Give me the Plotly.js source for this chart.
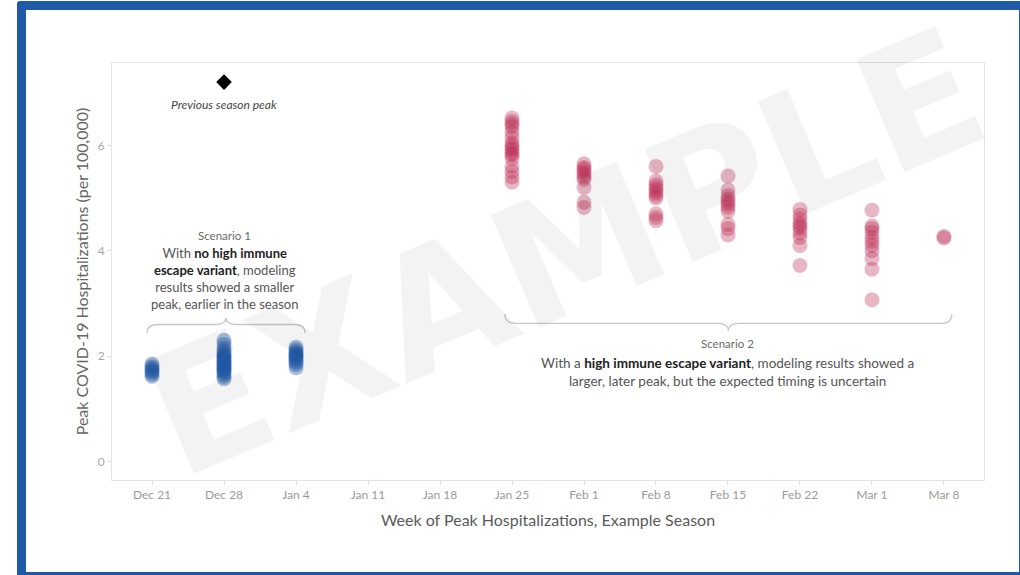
<!DOCTYPE html>
<html>
<head>
<meta charset="utf-8">
<script src="https://cdn.plot.ly/plotly-3.0.1.min.js"></script>
<style>
  html, body { margin: 0; padding: 0; background: #ffffff; overflow: hidden; width: 1020px; height: 575px; }
  #frame { position: absolute; left: 17px; top: 1px; width: 1011px; height: 580px; box-sizing: border-box;
           border: 9px solid #1f5aa6; border-radius: 3px; }
  #chart { position: absolute; left: 0; top: 0; width: 1020px; height: 575px; }
</style>
</head>
<body>
<div id="frame"></div>
<div id="chart"></div>
<script>
// ---- data ----
const weekLabels = ["Dec 21","Dec 28","Jan 4","Jan 11","Jan 18","Jan 25","Feb 1","Feb 8","Feb 15","Feb 22","Mar 1","Mar 8"];

// Scenario 1 (no high immune escape variant)
const s1Dec21 = [1.85, 1.8, 1.77, 1.73, 1.7, 1.66, 1.62];
const s1Dec28 = [2.3, 2.22, 2.15, 2.1, 2.05, 2.02, 2.0, 1.97, 1.95, 1.92, 1.9, 1.87, 1.85, 1.82, 1.8, 1.77, 1.75, 1.72, 1.7, 1.66, 1.62, 1.57];
const s1Jan4  = [2.17, 2.12, 2.08, 2.05, 2.02, 2.0, 1.98, 1.95, 1.92, 1.88, 1.84, 1.78];

// Scenario 2 (high immune escape variant)
const s2Jan25 = [6.52, 6.45, 6.4, 6.35, 6.25, 6.15, 6.05, 6.0, 5.95, 5.9, 5.85, 5.82, 5.75, 5.6, 5.5, 5.4, 5.3];
const s2Feb1  = [5.65, 5.58, 5.55, 5.5, 5.45, 5.4, 5.35, 5.2, 4.92, 4.82];
const s2Feb8  = [5.6, 5.32, 5.25, 5.2, 5.15, 5.1, 5.05, 5.0, 4.7, 4.63, 4.57];
const s2Feb15 = [5.42, 5.15, 5.05, 4.98, 4.93, 4.88, 4.82, 4.75, 4.5, 4.42, 4.3];
const s2Feb22 = [4.78, 4.68, 4.6, 4.52, 4.47, 4.42, 4.33, 4.25, 4.1, 3.72];
const s2Mar1  = [4.77, 4.47, 4.42, 4.35, 4.25, 4.18, 4.1, 4.0, 3.85, 3.65, 3.07];
const s2Mar8  = [4.27, 4.24];

// Previous season peak
const prevPeakWeek = "Dec 28";
const prevPeakValue = 7.2;

// ---- build traces ----
function column(label, vals) {
  const i = weekLabels.indexOf(label);
  return { x: vals.map(() => i), y: vals };
}
function merge(cols) {
  const x = [], y = [];
  cols.forEach(c => { x.push(...c.x); y.push(...c.y); });
  return { x, y };
}
const s1 = merge([column("Dec 21", s1Dec21), column("Dec 28", s1Dec28), column("Jan 4", s1Jan4)]);
const s2 = merge([column("Jan 25", s2Jan25), column("Feb 1", s2Feb1), column("Feb 8", s2Feb8),
                  column("Feb 15", s2Feb15), column("Feb 22", s2Feb22), column("Mar 1", s2Mar1), column("Mar 8", s2Mar8)]);

const font = "Lato, 'Open Sans', sans-serif";

const traces = [
  { type: "scatter", mode: "markers", x: s1.x, y: s1.y, hoverinfo: "y",
    marker: { size: 15, color: "#2057a6", opacity: 0.4, line: { width: 0 } } },
  { type: "scatter", mode: "markers", x: s2.x, y: s2.y, hoverinfo: "y",
    marker: { size: 15, color: "#b8254f", opacity: 0.33, line: { width: 0 } } },
  { type: "scatter", mode: "markers", x: [weekLabels.indexOf(prevPeakWeek)], y: [prevPeakValue], hoverinfo: "y",
    marker: { size: 12, symbol: "diamond", color: "#000000" } }
];

// curly brace path in data coords
function brace(x0, x1, yLine, dEnd, dTip, rx) {
  const xm = (x0 + x1) / 2;
  return `M ${x0},${yLine + dEnd} Q ${x0},${yLine} ${x0 + rx},${yLine} L ${xm - rx},${yLine} ` +
         `Q ${xm},${yLine} ${xm},${yLine + dTip} Q ${xm},${yLine} ${xm + rx},${yLine} ` +
         `L ${x1 - rx},${yLine} Q ${x1},${yLine} ${x1},${yLine + dEnd}`;
}

const i1a = weekLabels.indexOf("Dec 21"), i1b = weekLabels.indexOf("Jan 4");
const i2a = weekLabels.indexOf("Jan 25"), i2b = weekLabels.indexOf("Mar 8");

const layout = {
  width: 1020, height: 575,
  margin: { l: 112, r: 36, t: 63, b: 95 },
  paper_bgcolor: "rgba(0,0,0,0)",
  plot_bgcolor: "#ffffff",
  showlegend: false,
  font: { family: font, color: "#555" },
  xaxis: {
    range: [-0.556, 11.556], tickmode: "array",
    tickvals: weekLabels.map((_, i) => i), ticktext: weekLabels,
    showgrid: false, zeroline: false, showline: true, mirror: true, linecolor: "#e4e4e4", linewidth: 1,
    ticks: "outside", ticklen: 4, tickcolor: "#dddddd",
    tickfont: { family: font, size: 12, color: "#9a9a9a" },
    title: { text: "Week of Peak Hospitalizations, Example Season", font: { family: font, size: 16, color: "#5a5a5a" }, standoff: 13 }
  },
  yaxis: {
    range: [-0.351, 7.562], tickvals: [0, 2, 4, 6],
    showgrid: false, zeroline: false, showline: true, mirror: true, linecolor: "#e4e4e4", linewidth: 1,
    ticks: "outside", ticklen: 4, tickcolor: "#dddddd",
    tickfont: { family: font, size: 12, color: "#a8a8a8" },
    title: { text: "Peak COVID-19 Hospitalizations (per 100,000)", font: { family: font, size: 16, color: "#666" }, standoff: 5 }
  },
  shapes: [
    { type: "path", xref: "x", yref: "y", path: brace(i1a - 0.07, i1b + 0.125, 2.6, -0.16, 0.13, 0.15),
      line: { color: "#c8c8c8", width: 1.3 } },
    { type: "path", xref: "x", yref: "y", path: brace(i2a - 0.1, i2b + 0.11, 2.62, 0.18, -0.14, 0.15),
      line: { color: "#c8c8c8", width: 1.3 } }
  ],
  annotations: [
    { text: "EXAMPLE", xref: "paper", yref: "paper", x: 0.52, y: 0.545, showarrow: false, textangle: -23,
      font: { family: "'DejaVu Sans', sans-serif", size: 168, weight: "bold", color: "rgba(0,0,0,0.048)" } },
    { text: "<i>Previous season peak</i>", x: weekLabels.indexOf(prevPeakWeek), y: 6.78, xref: "x", yref: "y",
      showarrow: false, font: { family: font, size: 12, color: "#444" } },
    { text: "Scenario 1", x: 1, y: 4.29, xref: "x", yref: "y", showarrow: false,
      font: { family: font, size: 11.5, color: "#6a6a6a" } },
    { text: "With <b style='color:#222'>no high immune</b><br><b style='color:#222'>escape variant</b>, modeling<br>results showed a smaller<br>peak, earlier in the season",
      x: 1, y: 3.47, xref: "x", yref: "y", showarrow: false, align: "center",
      font: { family: font, size: 13, color: "#555" } },
    { text: "Scenario 2", x: 8, y: 2.24, xref: "x", yref: "y", showarrow: false,
      font: { family: font, size: 11.5, color: "#6a6a6a" } },
    { text: "With a <b style='color:#222'>high immune escape variant</b>, modeling results showed a<br>larger, later peak, but the expected timing is uncertain",
      x: 8, y: 1.69, xref: "x", yref: "y", showarrow: false, align: "center",
      font: { family: font, size: 13.5, color: "#555" } }
  ]
};

Plotly.newPlot("chart", traces, layout, { displayModeBar: false, staticPlot: true });
</script>
</body>
</html>
